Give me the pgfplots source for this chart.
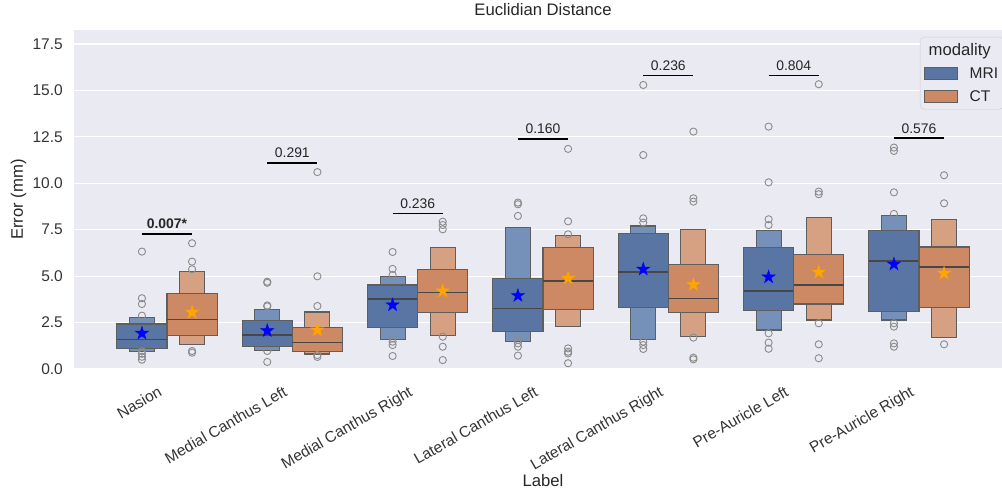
\documentclass[border=0pt]{standalone}
\usepackage{fontspec}
\setmainfont{Liberation Sans}
\usepackage{pgfplots}
\pgfplotsset{compat=1.18}
\usepgfplotslibrary{statistics}

\definecolor{bg}{HTML}{EAEAF2}
\definecolor{mriI}{HTML}{5875A4}
\definecolor{mriO}{HTML}{7590B9}
\definecolor{ctI}{HTML}{CD8963}
\definecolor{ctO}{HTML}{D6A182}
\definecolor{edgec}{HTML}{5E5E5E}
\definecolor{medc}{HTML}{474747}
\definecolor{olc}{HTML}{8C8C8C}
\definecolor{lgedge}{HTML}{CCCCCC}
\definecolor{starO}{HTML}{FFA500}

\newcommand{\tickfont}{\fontsize{15.5}{18}\selectfont}
\newcommand{\labfont}{\fontsize{16.67}{20}\selectfont}
\newcommand{\annfont}{\fontsize{13.9}{16}\selectfont}

\pgfdeclareplotmark{fstar}{%
  \pgfpathmoveto{\pgfpointpolar{90}{\pgfplotmarksize}}%
  \pgfpathlineto{\pgfpointpolar{126}{0.382\pgfplotmarksize}}%
  \pgfpathlineto{\pgfpointpolar{162}{\pgfplotmarksize}}%
  \pgfpathlineto{\pgfpointpolar{198}{0.382\pgfplotmarksize}}%
  \pgfpathlineto{\pgfpointpolar{234}{\pgfplotmarksize}}%
  \pgfpathlineto{\pgfpointpolar{270}{0.382\pgfplotmarksize}}%
  \pgfpathlineto{\pgfpointpolar{306}{\pgfplotmarksize}}%
  \pgfpathlineto{\pgfpointpolar{342}{0.382\pgfplotmarksize}}%
  \pgfpathlineto{\pgfpointpolar{18}{\pgfplotmarksize}}%
  \pgfpathlineto{\pgfpointpolar{54}{0.382\pgfplotmarksize}}%
  \pgfpathclose\pgfusepathqfillstroke}

\pgfplotsset{
  ob/.style={forget plot, fill=#1, draw=edgec, line width=1.1pt,
    boxplot/every median/.style={draw=none},
    boxplot/every whisker/.style={draw=none}},
  ib/.style={forget plot, fill=#1, draw=edgec, line width=1.1pt,
    boxplot/every median/.style={draw=medc, line width=1.5pt},
    boxplot/every whisker/.style={draw=none}},
  pline/.style={forget plot, black, line width=1.6pt},
}

\begin{document}
\begin{tikzpicture}
\useasboundingbox (-74pt,-123pt) rectangle (928pt,369pt);
\begin{axis}[
  at={(0,0)}, anchor=south west,
  scale only axis, width=938pt, height=339pt,
  xmin=-0.742, xmax=6.742, ymin=0, ymax=18.25,
  boxplot/draw direction=y,
  axis background/.style={fill=bg},
  axis line style={draw=none},
  major tick length=0pt,
  ymajorgrids, grid style={white, line width=1.2pt},
  ytick={0,2.5,5,7.5,10,12.5,15,17.5},
  /pgf/number format/assume math mode=true,
  yticklabel style={/pgf/number format/fixed, /pgf/number format/fixed zerofill, /pgf/number format/precision=1,
    font=\tickfont, text=black!80, inner sep=0pt, anchor=east, xshift=-11pt},
  xtick={0,1,2,3,4,5,6},
  xticklabels={Nasion, Medial Canthus Left, Medial Canthus Right, Lateral Canthus Left, Lateral Canthus Right, Pre-Auricle Left, Pre-Auricle Right},
  xticklabel style={font=\tickfont, text=black!80, inner sep=0pt, xshift=-4pt, yshift=-26pt, rotate=30, anchor=base east},
  xlabel={Label}, ylabel={Error (mm)},
  xlabel style={font=\labfont, text=black!85, at={(axis description cs:0.5,-0.3304)}, anchor=center},
  ylabel style={font=\labfont, text=black!85, at={(axis description cs:-0.0592,0.5)}, anchor=center},
  title={Euclidian Distance},
  title style={font=\labfont, text=black!85, inner sep=0pt, at={(axis description cs:0.5,1.0236)}, anchor=base},
  legend style={at={(rel axis cs:0.9019,0.9794)}, anchor=north west, fill=bg, draw=lgedge,
    rounded corners=4pt, font=\tickfont, text=black!85, inner xsep=4pt, inner ysep=5pt,
    row sep=7.5pt, nodes={inner sep=1.5pt},
    /tikz/every odd column/.append style={column sep=10pt}},
  legend cell align=left,
  clip=true,
]
% legend
\addlegendimage{empty legend}
\addlegendentry{\hspace{-41pt}\labfont modality}
\addlegendimage{legend image code/.code={\draw[sharp corners, fill=mriI, draw=edgec, line width=1pt] (0pt,-6pt) rectangle (33pt,6pt);}}
\addlegendentry{MRI}
\addlegendimage{legend image code/.code={\draw[sharp corners, fill=ctI, draw=edgec, line width=1pt] (0pt,-6pt) rectangle (33pt,6pt);}}
\addlegendentry{CT}

% ---- boxes (outer letter-value level, then inner quartile box) ----
\addplot[ob=mriO, boxplot prepared={draw position=-0.2, lower whisker=0.93, lower quartile=0.93, median=1.60, upper quartile=2.76, upper whisker=2.76, box extend=0.2}] coordinates {};
\addplot[ib=mriI, boxplot prepared={draw position=-0.2, lower whisker=1.11, lower quartile=1.11, median=1.60, upper quartile=2.42, upper whisker=2.42, box extend=0.4}] coordinates {};
\addplot[ob=ctO, boxplot prepared={draw position=0.2, lower whisker=1.31, lower quartile=1.31, median=2.67, upper quartile=5.24, upper whisker=5.24, box extend=0.2}] coordinates {};
\addplot[ib=ctI, boxplot prepared={draw position=0.2, lower whisker=1.81, lower quartile=1.81, median=2.67, upper quartile=4.06, upper whisker=4.06, box extend=0.4}] coordinates {};

\addplot[ob=mriO, boxplot prepared={draw position=0.8, lower whisker=1.02, lower quartile=1.02, median=1.83, upper quartile=3.21, upper whisker=3.21, box extend=0.2}] coordinates {};
\addplot[ib=mriI, boxplot prepared={draw position=0.8, lower whisker=1.20, lower quartile=1.20, median=1.83, upper quartile=2.62, upper whisker=2.62, box extend=0.4}] coordinates {};
\addplot[ob=ctO, boxplot prepared={draw position=1.2, lower whisker=0.81, lower quartile=0.81, median=1.42, upper quartile=3.07, upper whisker=3.07, box extend=0.2}] coordinates {};
\addplot[ib=ctI, boxplot prepared={draw position=1.2, lower whisker=0.93, lower quartile=0.93, median=1.42, upper quartile=2.24, upper whisker=2.24, box extend=0.4}] coordinates {};

\addplot[ob=mriO, boxplot prepared={draw position=1.8, lower whisker=1.60, lower quartile=1.60, median=3.77, upper quartile=4.99, upper whisker=4.99, box extend=0.2}] coordinates {};
\addplot[ib=mriI, boxplot prepared={draw position=1.8, lower whisker=2.24, lower quartile=2.24, median=3.77, upper quartile=4.52, upper whisker=4.52, box extend=0.4}] coordinates {};
\addplot[ob=ctO, boxplot prepared={draw position=2.2, lower whisker=1.81, lower quartile=1.81, median=4.11, upper quartile=6.53, upper whisker=6.53, box extend=0.2}] coordinates {};
\addplot[ib=ctI, boxplot prepared={draw position=2.2, lower whisker=3.03, lower quartile=3.03, median=4.11, upper quartile=5.37, upper whisker=5.37, box extend=0.4}] coordinates {};

\addplot[ob=mriO, boxplot prepared={draw position=2.8, lower whisker=1.49, lower quartile=1.49, median=3.27, upper quartile=7.61, upper whisker=7.61, box extend=0.2}] coordinates {};
\addplot[ib=mriI, boxplot prepared={draw position=2.8, lower whisker=2.01, lower quartile=2.01, median=3.27, upper quartile=4.85, upper whisker=4.85, box extend=0.4}] coordinates {};
\addplot[ob=ctO, boxplot prepared={draw position=3.2, lower whisker=2.28, lower quartile=2.28, median=4.74, upper quartile=7.20, upper whisker=7.20, box extend=0.2}] coordinates {};
\addplot[ib=ctI, boxplot prepared={draw position=3.2, lower whisker=3.18, lower quartile=3.18, median=4.74, upper quartile=6.53, upper whisker=6.53, box extend=0.4}] coordinates {};

\addplot[ob=mriO, boxplot prepared={draw position=3.8, lower whisker=1.60, lower quartile=1.60, median=5.21, upper quartile=7.70, upper whisker=7.70, box extend=0.2}] coordinates {};
\addplot[ib=mriI, boxplot prepared={draw position=3.8, lower whisker=3.32, lower quartile=3.32, median=5.21, upper quartile=7.29, upper whisker=7.29, box extend=0.4}] coordinates {};
\addplot[ob=ctO, boxplot prepared={draw position=4.2, lower whisker=1.74, lower quartile=1.74, median=3.79, upper quartile=7.52, upper whisker=7.52, box extend=0.2}] coordinates {};
\addplot[ib=ctI, boxplot prepared={draw position=4.2, lower whisker=3.05, lower quartile=3.05, median=3.79, upper quartile=5.64, upper whisker=5.64, box extend=0.4}] coordinates {};

\addplot[ob=mriO, boxplot prepared={draw position=4.8, lower whisker=2.10, lower quartile=2.10, median=4.20, upper quartile=7.47, upper whisker=7.47, box extend=0.2}] coordinates {};
\addplot[ib=mriI, boxplot prepared={draw position=4.8, lower whisker=3.14, lower quartile=3.14, median=4.20, upper quartile=6.53, upper whisker=6.53, box extend=0.4}] coordinates {};
\addplot[ob=ctO, boxplot prepared={draw position=5.2, lower whisker=2.64, lower quartile=2.64, median=4.52, upper quartile=8.17, upper whisker=8.17, box extend=0.2}] coordinates {};
\addplot[ib=ctI, boxplot prepared={draw position=5.2, lower whisker=3.50, lower quartile=3.50, median=4.52, upper quartile=6.17, upper whisker=6.17, box extend=0.4}] coordinates {};

\addplot[ob=mriO, boxplot prepared={draw position=5.8, lower whisker=2.64, lower quartile=2.64, median=5.82, upper quartile=8.26, upper whisker=8.26, box extend=0.2}] coordinates {};
\addplot[ib=mriI, boxplot prepared={draw position=5.8, lower whisker=3.09, lower quartile=3.09, median=5.82, upper quartile=7.45, upper whisker=7.45, box extend=0.4}] coordinates {};
\addplot[ob=ctO, boxplot prepared={draw position=6.2, lower whisker=1.70, lower quartile=1.70, median=5.48, upper quartile=8.06, upper whisker=8.06, box extend=0.2}] coordinates {};
\addplot[ib=ctI, boxplot prepared={draw position=6.2, lower whisker=3.32, lower quartile=3.32, median=5.48, upper quartile=6.57, upper whisker=6.57, box extend=0.4}] coordinates {};

% ---- outliers ----
\addplot[forget plot, only marks, mark=o, mark size=3.6pt, mark options={draw=olc, line width=0.9pt}] coordinates {
(-0.2,6.32) (-0.2,3.81) (-0.2,3.50) (-0.2,2.87) (-0.2,0.95) (-0.2,0.82) (-0.2,0.66) (-0.2,0.50)
(0.8,4.70) (0.8,4.64) (0.8,3.42) (0.8,3.37) (0.8,0.97) (0.8,0.38)
(1.8,6.30) (1.8,5.39) (1.8,5.06) (1.8,1.65) (1.8,1.47) (1.8,1.29) (1.8,0.70)
(2.8,8.96) (2.8,8.87) (2.8,8.24) (2.8,1.56) (2.8,1.38) (2.8,1.20) (2.8,0.72)
(3.8,15.29) (3.8,11.52) (3.8,8.11) (3.8,7.88) (3.8,1.47) (3.8,1.29) (3.8,1.08)
(4.8,13.05) (4.8,10.05) (4.8,8.06) (4.8,7.75) (4.8,1.92) (4.8,1.42) (4.8,1.09)
(5.8,11.92) (5.8,11.74) (5.8,9.51) (5.8,8.35) (5.8,2.46) (5.8,2.28) (5.8,1.38) (5.8,1.20)
};
\addplot[forget plot, only marks, mark=o, mark size=3.6pt, mark options={draw=olc, line width=0.9pt}] coordinates {
(0.2,6.77) (0.2,5.78) (0.2,5.37) (0.2,0.97) (0.2,0.88)
(1.2,10.60) (1.2,4.99) (1.2,3.39) (1.2,0.75) (1.2,0.65)
(2.2,7.93) (2.2,7.75) (2.2,7.52) (2.2,1.74) (2.2,1.20) (2.2,0.48)
(3.2,11.85) (3.2,7.95) (3.2,7.25) (3.2,1.11) (3.2,0.93) (3.2,0.84) (3.2,0.31)
(4.2,12.78) (4.2,9.19) (4.2,9.01) (4.2,1.69) (4.2,0.61) (4.2,0.52)
(5.2,15.33) (5.2,9.55) (5.2,9.41) (5.2,2.46) (5.2,1.33) (5.2,0.58)
(6.2,10.43) (6.2,8.92) (6.2,1.33)
};

% ---- means ----
\addplot[forget plot, only marks, mark=fstar, mark size=6.8pt, mark options={fill=blue, draw=blue, line width=0.5pt}] coordinates {
(-0.2,1.92) (0.8,2.06) (1.8,3.45) (2.8,3.95) (3.8,5.37) (4.8,4.95) (5.8,5.64)
};
\addplot[forget plot, only marks, mark=fstar, mark size=6.8pt, mark options={fill=starO, draw=starO, line width=0.5pt}] coordinates {
(0.2,3.05) (1.2,2.10) (2.2,4.20) (3.2,4.88) (4.2,4.54) (5.2,5.21) (6.2,5.15)
};

% ---- significance annotations ----
\addplot[pline] coordinates {(-0.2,7.27) (0.2,7.27)};
\addplot[pline] coordinates {(0.8,11.09) (1.2,11.09)};
\addplot[pline] coordinates {(1.8,8.38) (2.2,8.38)};
\addplot[pline] coordinates {(2.8,12.39) (3.2,12.39)};
\addplot[pline] coordinates {(3.8,15.81) (4.2,15.81)};
\addplot[pline] coordinates {(4.8,15.81) (5.2,15.81)};
\addplot[pline] coordinates {(5.8,12.42) (6.2,12.42)};
\node[anchor=base, inner sep=0pt, yshift=5pt, font=\annfont, text=black!85] at (axis cs:0,7.27) {\textbf{0.007*}};
\node[anchor=base, inner sep=0pt, yshift=5pt, font=\annfont, text=black!85] at (axis cs:1,11.09) {0.291};
\node[anchor=base, inner sep=0pt, yshift=5pt, font=\annfont, text=black!85] at (axis cs:2,8.38) {0.236};
\node[anchor=base, inner sep=0pt, yshift=5pt, font=\annfont, text=black!85] at (axis cs:3,12.39) {0.160};
\node[anchor=base, inner sep=0pt, yshift=5pt, font=\annfont, text=black!85] at (axis cs:4,15.81) {0.236};
\node[anchor=base, inner sep=0pt, yshift=5pt, font=\annfont, text=black!85] at (axis cs:5,15.81) {0.804};
\node[anchor=base, inner sep=0pt, yshift=5pt, font=\annfont, text=black!85] at (axis cs:6,12.42) {0.576};
\end{axis}
\end{tikzpicture}
\end{document}
